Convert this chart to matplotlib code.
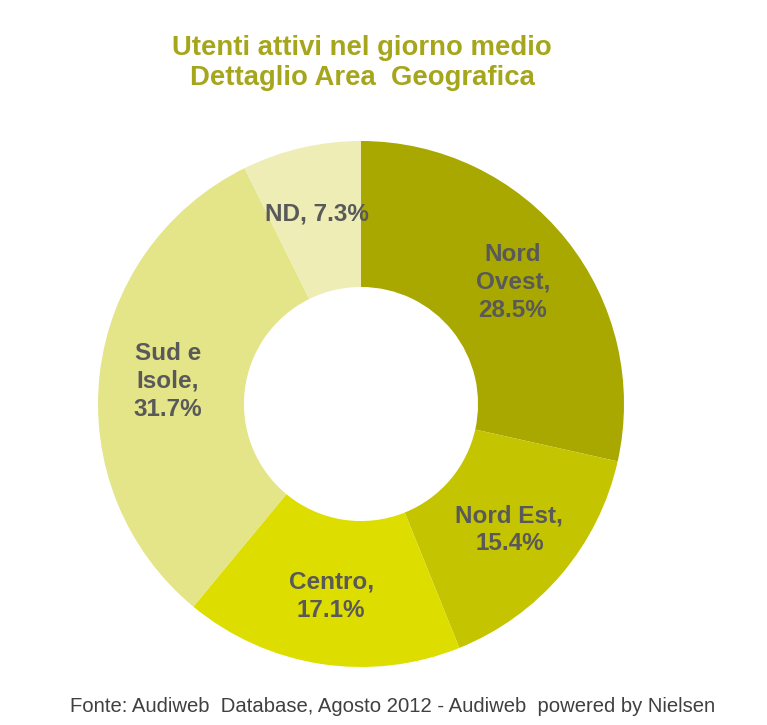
import matplotlib.pyplot as plt

# Utenti attivi per area geografica (Audiweb, agosto 2012)
aree = ['Nord\nOvest', 'Nord Est', 'Centro', 'Sud e\nIsole', 'ND']
quote = [28.5, 15.4, 17.1, 31.7, 7.3]
colori = ['#A8A800', '#C4C400', '#DEDD00', '#E4E488', '#EEEDB6']

plt.rcParams['font.family'] = ['Liberation Sans', 'DejaVu Sans']

fig = plt.figure(figsize=(7.67, 7.25), dpi=100)
ax = fig.add_axes([98 / 767, 58 / 725, 526 / 767, 526 / 725])

# ND sta su una riga sola, le altre vanno a capo prima della percentuale
etichette = [f'{a}, {q}%' if a == 'ND' else f'{a},\n{q}%' for a, q in zip(aree, quote)]

wedges, texts = ax.pie(quote, labels=etichette, colors=colori, startangle=90,
                       counterclock=False, radius=1, labeldistance=0.74,
                       wedgeprops=dict(width=0.555, edgecolor='none'),
                       textprops=dict(fontsize=17.5, fontweight='bold',
                                      color='#595959', linespacing=1.28))
for t in texts:
    t.set_horizontalalignment('center')
    t.set_verticalalignment('center')

ax.set_xlim(-1, 1)
ax.set_ylim(-1, 1)
ax.set_aspect('equal')
ax.axis('off')

fig.text(362 / 767, 1 - 63 / 725, 'Utenti attivi nel giorno medio\nDettaglio Area  Geografica',
         ha='center', va='center', fontsize=19.8, fontweight='bold',
         color='#A6A61C', linespacing=1.2)
fig.text(393 / 767, 1 - 707 / 725,
         'Fonte: Audiweb  Database, Agosto 2012 - Audiweb  powered by Nielsen',
         ha='center', va='center', fontsize=14.6, color='#404040')

fig.savefig('out.png', dpi=100)
